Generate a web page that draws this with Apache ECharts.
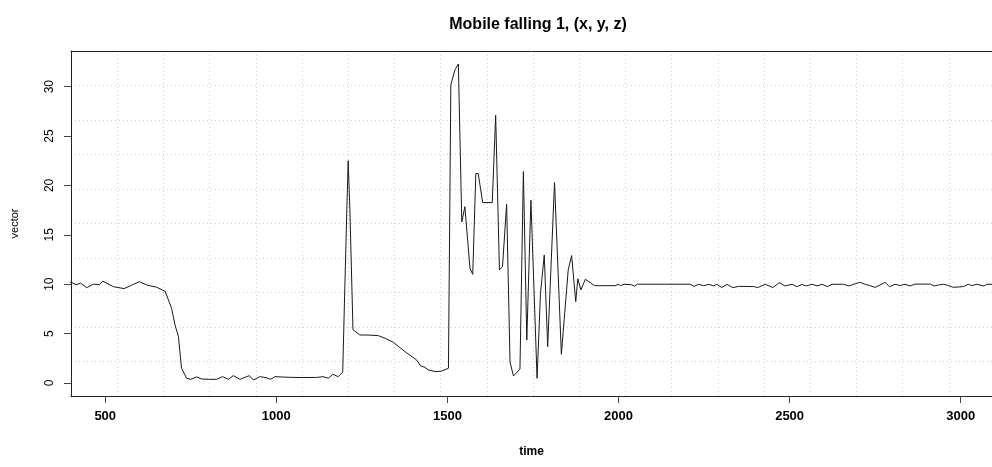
<!DOCTYPE html>
<html>
<head>
<meta charset="utf-8">
<script src="https://cdn.jsdelivr.net/npm/echarts@6/dist/echarts.min.js"></script>
<style>
html,body{margin:0;padding:0;background:#fff;}
#chart{width:992px;height:467px;}
</style>
</head>
<body>
<div id="chart"></div>
<script>
var times = [390,400,415,428,446,465,483,493,524,555,577,600,623,650,675,694,704,714,723,738,750,767,782,801,826,843,860,874,894,921,933,952,970,984,996,1020,1040,1069,1118,1137,1152,1165,1181,1194,1199,1206,1210,1215,1224,1244,1270,1298,1318,1342,1376,1410,1422,1434,1444,1464,1483,1503,1510,1522,1532,1542,1551,1566,1574,1583,1590,1603,1631,1641,1652,1661,1673,1683,1693,1712,1722,1732,1744,1762,1772,1783,1793,1813,1833,1853,1863,1875,1881,1890,1903,1930,1990,1999,2006,2016,2037,2047,2055,2209,2214,2221,2234,2249,2264,2278,2287,2302,2317,2334,2351,2395,2407,2429,2451,2470,2486,2507,2521,2536,2549,2566,2580,2595,2610,2624,2658,2673,2687,2705,2721,2734,2750,2765,2779,2792,2808,2823,2837,2852,2867,2911,2922,2935,2950,2964,2979,3008,3022,3032,3047,3068,3076,3092,3110,3130];
var vectorValues = [10.15,10.2,9.95,10.1,9.65,10.0,9.95,10.3,9.75,9.55,9.9,10.25,9.9,9.7,9.28,7.56,5.87,4.69,1.49,0.47,0.37,0.61,0.4,0.37,0.37,0.64,0.37,0.74,0.37,0.74,0.3,0.64,0.54,0.37,0.64,0.6,0.57,0.55,0.56,0.64,0.47,0.88,0.64,1.1,8.0,17.5,22.5,17.5,5.4,4.86,4.85,4.79,4.52,4.12,3.17,2.33,1.72,1.59,1.32,1.15,1.2,1.49,30.2,31.7,32.3,16.3,17.85,11.6,11.0,21.2,21.2,18.26,18.26,27.1,11.44,11.78,18.1,2.1,0.71,1.4,21.4,4.35,18.5,0.47,9.08,12.96,3.68,20.3,2.9,11.44,12.9,8.23,10.55,9.42,10.5,9.85,9.85,9.99,9.85,9.99,9.95,9.8,10.0,10.0,10.17,9.78,9.99,9.85,9.99,9.82,9.99,9.66,9.98,9.65,9.78,9.76,9.66,9.99,9.66,10.16,9.82,9.99,9.75,9.97,9.83,9.99,9.83,9.99,9.75,9.99,9.99,9.82,9.99,10.19,9.99,9.86,9.68,9.93,10.19,9.75,9.99,9.86,9.99,9.83,10.01,10.01,9.82,9.92,9.99,9.86,9.68,9.76,9.99,9.86,9.99,9.82,9.99,9.99,9.95,9.9];
var xTicks = [500,1000,1500,2000,2500,3000];
var yTicks = [0,5,10,15,20,25,30];

var lineData = times.map(function(t,i){ return [t, vectorValues[i]]; });
var sans = "'Liberation Sans',Arial,sans-serif";
var chart = echarts.init(document.getElementById('chart'), null, {renderer:'canvas'});
chart.setOption({
  animation: false,
  backgroundColor: '#ffffff',
  title: {
    text: 'Mobile falling 1, (x, y, z)',
    left: 533, top: 12, textAlign: 'center',
    textStyle: {fontFamily: sans, fontWeight: 'bold', fontSize: 16, color: '#000'}
  },
  grid: {left: 71, right: 0, top: 51, bottom: 71, show: false, containLabel: false},
  xAxis: [{
    type: 'value', min: 400, max: 3091.4, position: 'bottom',
    name: 'time', nameLocation: 'middle', nameGap: 50,
    nameTextStyle: {fontFamily: sans, fontWeight: 'bold', fontSize: 12, color: '#000'},
    axisLine: {show: true, onZero: false, lineStyle: {color: '#222', width: 1}},
    axisTick: {show: true, customValues: xTicks, length: 7, lineStyle: {color: '#444'}},
    axisLabel: {customValues: xTicks, margin: 14, fontFamily: sans, fontWeight: 'bold', fontSize: 13, color: '#000',
      formatter: function(v){ return String(v); }},
    splitLine: {show: false}
  }, {
    type: 'value', min: 0, max: 19.935, interval: 1, position: 'bottom',
    axisLine: {show: false}, axisTick: {show: false}, axisLabel: {show: false},
    splitLine: {show: true, showMinLine: false, showMaxLine: false, lineStyle: {color: '#cfcfcf', width: 1, type: [1, 3]}}
  }, {
    type: 'value', min: 0, max: 1, position: 'top',
    axisLine: {show: true, onZero: false, lineStyle: {color: '#222', width: 1}},
    axisTick: {show: false}, axisLabel: {show: false}, splitLine: {show: false}
  }],
  yAxis: [{
    type: 'value', min: -1.32, max: 33.61, position: 'left',
    name: 'vector', nameLocation: 'middle', nameGap: 51, nameRotate: 90,
    nameTextStyle: {fontFamily: sans, fontSize: 11, color: '#000'},
    axisLine: {show: true, onZero: false, lineStyle: {color: '#222', width: 1}},
    axisTick: {show: true, customValues: yTicks, length: 7, lineStyle: {color: '#444'}},
    axisLabel: {customValues: yTicks, rotate: 90, margin: 15, fontFamily: sans, fontSize: 12, color: '#000'},
    splitLine: {show: false}
  }, {
    type: 'value', min: 0, max: 10, interval: 1, position: 'left',
    axisLine: {show: false}, axisTick: {show: false}, axisLabel: {show: false},
    splitLine: {show: true, showMinLine: false, showMaxLine: false, lineStyle: {color: '#cfcfcf', width: 1, type: [1, 3]}}
  }],
  series: [{
    type: 'line', xAxisIndex: 0, yAxisIndex: 0,
    data: lineData, symbol: 'none', clip: true,
    lineStyle: {color: '#1a1a1a', width: 1}
  }]
});
</script>
</body>
</html>
